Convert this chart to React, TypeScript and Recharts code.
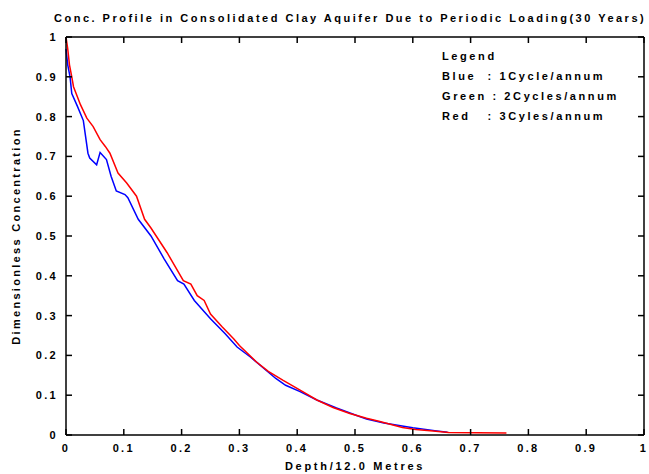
import { Line, LineChart, XAxis, YAxis, Legend } from "recharts";

const xTicks = [0, 0.1, 0.2, 0.3, 0.4, 0.5, 0.6, 0.7, 0.8, 0.9, 1];
const yTicks = [0, 0.1, 0.2, 0.3, 0.4, 0.5, 0.6, 0.7, 0.8, 0.9, 1];

// 1 cycle/annum
const blueX = [0, 0.003, 0.007, 0.01, 0.02, 0.03, 0.038, 0.041, 0.053, 0.059, 0.07, 0.078, 0.087, 0.102, 0.107, 0.125, 0.147, 0.17, 0.193, 0.204, 0.222, 0.25, 0.275, 0.296, 0.319, 0.363, 0.38, 0.405, 0.434, 0.468, 0.503, 0.52, 0.55, 0.6, 0.638, 0.66];
const blueY = [0.97, 0.93, 0.9, 0.858, 0.825, 0.79, 0.708, 0.696, 0.679, 0.71, 0.692, 0.65, 0.613, 0.604, 0.596, 0.542, 0.5, 0.442, 0.388, 0.379, 0.338, 0.292, 0.255, 0.221, 0.196, 0.142, 0.125, 0.109, 0.088, 0.068, 0.049, 0.04, 0.03, 0.018, 0.011, 0.007];

// 3 cycles/annum
const redX = [0, 0.003, 0.006, 0.01, 0.013, 0.025, 0.036, 0.047, 0.059, 0.068, 0.076, 0.09, 0.105, 0.122, 0.136, 0.147, 0.175, 0.203, 0.216, 0.227, 0.239, 0.25, 0.27, 0.29, 0.3, 0.329, 0.35, 0.375, 0.405, 0.434, 0.462, 0.491, 0.52, 0.543, 0.582, 0.605, 0.635, 0.662, 0.762];
const redY = [1.0, 0.97, 0.93, 0.9, 0.875, 0.83, 0.796, 0.775, 0.742, 0.725, 0.708, 0.658, 0.633, 0.6, 0.542, 0.52, 0.458, 0.388, 0.379, 0.35, 0.338, 0.304, 0.272, 0.242, 0.225, 0.184, 0.16, 0.138, 0.113, 0.088, 0.069, 0.054, 0.042, 0.034, 0.019, 0.014, 0.01, 0.006, 0.005];

const legendLines = ["Legend", "Blue  : 1Cycle/annum", "Green : 2Cycles/annum", "Red   : 3Cyles/annum"];

const blueData = blueX.map((x, i) => ({ x, y: blueY[i] }));
const redData = redX.map((x, i) => ({ x, y: redY[i] }));

const font = '"Liberation Sans", Arial, sans-serif';
const axisStroke = { stroke: "#000", strokeWidth: 1.5 };
const TL = 6; // inward tick length
const X_MARGIN = 9;
const Y_MARGIN = 8;

function BottomTick({ x, y, payload }: any) {
  const ay = y - X_MARGIN;
  return (
    <g>
      <line x1={x} y1={ay} x2={x} y2={ay - TL} stroke="#000" strokeWidth={1.5} />
      <text x={x} y={y} dy="0.71em" textAnchor="middle" fill="#000" fontSize={11} fontWeight="bold">{payload.value}</text>
    </g>
  );
}

function LeftTick({ x, y, payload }: any) {
  const ax = x + Y_MARGIN;
  return (
    <g>
      <line x1={ax} y1={y} x2={ax + TL} y2={y} stroke="#000" strokeWidth={1.5} />
      <text x={x} y={y} dy="0.355em" textAnchor="end" fill="#000" fontSize={11} fontWeight="bold">{payload.value}</text>
    </g>
  );
}

function TopTick({ x, y }: any) {
  return <line x1={x} y1={y} x2={x} y2={y + TL} stroke="#000" strokeWidth={1.5} />;
}

function RightTick({ x, y }: any) {
  return <line x1={x} y1={y} x2={x - TL} y2={y} stroke="#000" strokeWidth={1.5} />;
}

function LegendBox() {
  return (
    <div style={{ fontSize: 11, fontWeight: "bold", lineHeight: "20px", color: "#000", whiteSpace: "pre", letterSpacing: "2.6px" }}>
      {legendLines.map((t) => (
        <div key={t}>{t}</div>
      ))}
    </div>
  );
}

export default function App() {
  return (
    <div style={{ position: "absolute", left: 0, top: 0, width: 649, height: 474, fontFamily: font, letterSpacing: "2.3px", background: "#fff" }}>
      <div style={{ position: "absolute", left: 54, top: 11, fontSize: 11, fontWeight: "bold", letterSpacing: "2.5px", lineHeight: "14px", whiteSpace: "nowrap", color: "#000" }}>
        Conc. Profile in Consolidated Clay Aquifer Due to Periodic Loading(30 Years)
      </div>
      <LineChart width={649} height={474} margin={{ top: 37, right: 5, bottom: 0, left: 0 }}>
        <XAxis
          type="number"
          dataKey="x"
          domain={[0, 1]}
          ticks={xTicks}
          interval={0}
          height={39}
          tickSize={0}
          tickMargin={X_MARGIN}
          tick={<BottomTick />}
          axisLine={axisStroke}
          tickLine={false}
          label={{ value: "Depth/12.0 Metres", position: "insideBottom", offset: 4, fill: "#000", fontSize: 11, fontWeight: "bold", letterSpacing: "2.7px" }}
        />
        <YAxis
          type="number"
          domain={[0, 1]}
          ticks={yTicks}
          interval={0}
          width={66}
          tickSize={0}
          tickMargin={Y_MARGIN}
          tick={<LeftTick />}
          axisLine={axisStroke}
          tickLine={false}
          label={{ value: "Dimensionless Concentration", angle: -90, position: "insideLeft", offset: 16, fill: "#000", fontSize: 11, fontWeight: "bold", style: { textAnchor: "middle" } }}
        />
        <XAxis
          xAxisId="top"
          orientation="top"
          mirror
          type="number"
          dataKey="x"
          domain={[0, 1]}
          ticks={xTicks}
          interval={0}
          tickSize={0}
          tickMargin={0}
          tick={<TopTick />}
          axisLine={axisStroke}
          tickLine={false}
        />
        <YAxis
          yAxisId="right"
          orientation="right"
          mirror
          type="number"
          domain={[0, 1]}
          ticks={yTicks}
          interval={0}
          tickSize={0}
          tickMargin={0}
          tick={<RightTick />}
          axisLine={axisStroke}
          tickLine={false}
        />
        <Legend
          layout="horizontal"
          verticalAlign="middle"
          align="center"
          content={<LegendBox />}
          wrapperStyle={{ left: 442, top: 46, width: 200, height: 84 }}
        />
        {/* invisible copy so the top/right frame axes have a series */}
        <Line data={redData} dataKey="y" xAxisId="top" yAxisId="right" stroke="none" dot={false} activeDot={false} isAnimationActive={false} legendType="none" />
        <Line data={blueData} dataKey="y" type="linear" stroke="#0000ff" strokeWidth={1.5} dot={false} isAnimationActive={false} legendType="none" />
        <Line data={redData} dataKey="y" type="linear" stroke="#ff0000" strokeWidth={1.5} dot={false} isAnimationActive={false} legendType="none" />
      </LineChart>
    </div>
  );
}
